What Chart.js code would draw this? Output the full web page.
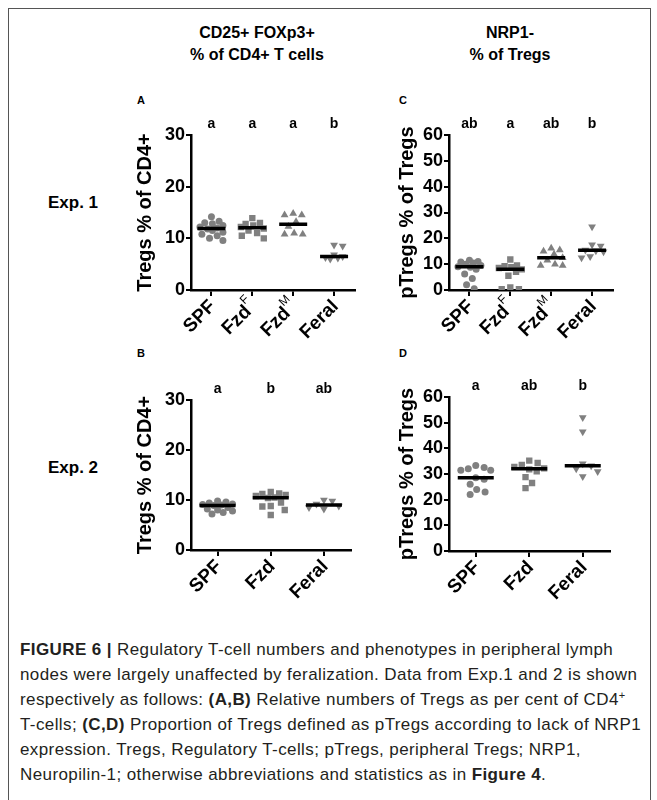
<!DOCTYPE html>
<html>
<head>
<meta charset="utf-8">
<script src="https://cdn.jsdelivr.net/npm/chart.js@4.4.0/dist/chart.umd.min.js"></script>
<style>
body { margin: 0; background: #fff; font-family: "Liberation Sans", Arial, sans-serif; }
#page { position: relative; width: 657px; height: 800px; overflow: hidden; background: #fff; }
#frame { position: absolute; left: 8px; top: 8px; width: 641px; height: 830px; border: 1px solid #555; }
.txt { position: absolute; font-weight: bold; color: #000; white-space: nowrap; }
.head { width: 220px; text-align: center; font-size: 16px; line-height: 22px; }
.exp { font-size: 17px; line-height: 20px; }
.letter { font-size: 11px; line-height: 12px; }
.box { position: absolute; }
#caption { position: absolute; left: 20px; top: 637px; font-size: 17px; letter-spacing: 0.4px; line-height: 25px; color: #231f20; white-space: nowrap; }
#caption sup { font-size: 11px; line-height: 0; vertical-align: 6px; }
</style>
</head>
<body>
<div id="page">
  <div id="frame"></div>
  <div class="txt head" style="left:147px; top:22px;">CD25+ FOXp3+<br>% of CD4+ T cells</div>
  <div class="txt head" style="left:400px; top:22px;">NRP1-<br>% of Tregs</div>
  <div class="txt exp" style="left:48px; top:193px;">Exp. 1</div>
  <div class="txt exp" style="left:48px; top:458px;">Exp. 2</div>
  <div class="txt letter" style="left:137px; top:94px;">A</div>
  <div class="txt letter" style="left:399px; top:94px;">C</div>
  <div class="txt letter" style="left:137px; top:347px;">B</div>
  <div class="txt letter" style="left:399px; top:347px;">D</div>

  <div class="box" style="left:131px; top:105px; width:241px; height:250px;"><canvas id="chartA"></canvas></div>
  <div class="box" style="left:393px; top:105px; width:237px; height:250px;"><canvas id="chartC"></canvas></div>
  <div class="box" style="left:131px; top:370px; width:241px; height:250px;"><canvas id="chartB"></canvas></div>
  <div class="box" style="left:393px; top:367px; width:238px; height:254px;"><canvas id="chartD"></canvas></div>

  <div id="caption"><b>FIGURE 6 |</b> Regulatory T-cell numbers and phenotypes in peripheral lymph<br>nodes were largely unaffected by feralization. Data from Exp.1 and 2 is shown<br>respectively as follows: <b>(A,B)</b> Relative numbers of Tregs as per cent of CD4<sup>+</sup><br>T-cells; <b>(C,D)</b> Proportion of Tregs defined as pTregs according to lack of NRP1<br>expression. Tregs, Regulatory T-cells; pTregs, peripheral Tregs; NRP1,<br>Neuropilin-1; otherwise abbreviations and statistics as in <b>Figure 4</b>.</div>
</div>

<script>
// tick labels (superscripts kept apart)
var exp1Labels = ['SPF', 'Fzd', 'Fzd', 'Feral'];
var exp1Sups = ['', 'F', 'M', ''];
var exp2Labels = ['SPF', 'Fzd', 'Feral'];
var exp2Sups = ['', '', ''];

// significance letters
var lettersA = ['a', 'a', 'a', 'b'];
var lettersC = ['ab', 'a', 'ab', 'b'];
var lettersB = ['a', 'b', 'ab'];
var lettersD = ['a', 'ab', 'b'];

// A: Tregs % of CD4+, Exp. 1
var aSPF = [14.2, 13.3, 13.0, 12.8, 12.5, 12.2, 12.0, 11.8, 11.5, 11.2, 10.8, 10.5, 10.0, 9.6];
var aFzdF = [13.9, 13.0, 12.8, 12.5, 12.2, 11.9, 11.5, 11.0, 10.5, 10.0];
var aFzdM = [14.8, 14.5, 14.5, 13.2, 12.3, 11.0, 10.8, 10.8];
var aFeral = [8.7, 8.5, 6.8, 6.5, 6.3, 6.2, 6.0];

// C: pTregs % of Tregs, Exp. 1
var cSPF = [11.5, 11.0, 10.8, 10.5, 10.0, 9.5, 9.0, 8.8, 8.0, 6.2, 4.5, 2.0, 0.5];
var cFzdF = [11.8, 9.5, 9.2, 8.8, 8.5, 8.0, 7.0, 5.5, 1.0, 0.3, 0.3];
var cFzdM = [16.2, 15.5, 15.0, 13.8, 12.5, 11.5, 10.0, 9.5, 9.5];
var cFeral = [24.5, 17.5, 17.0, 15.5, 15.2, 14.8, 13.0, 12.5];

// B: Tregs % of CD4+, Exp. 2
var bSPF = [9.8, 9.6, 9.4, 9.2, 9.1, 9.0, 8.9, 8.5, 8.2, 8.0, 7.8, 7.5, 7.2];
var bFzd = [11.6, 11.3, 11.2, 11.0, 10.8, 10.5, 10.4, 9.5, 8.8, 8.7, 8.0, 7.0];
var bFeral = [10.0, 9.8, 9.2, 8.8, 8.5, 8.2];

// D: pTregs % of Tregs, Exp. 2
var dSPF = [33.3, 32.5, 32.0, 31.5, 31.5, 28.5, 28.0, 26.0, 24.0, 23.0, 22.0];
var dFzd = [35.2, 34.3, 33.5, 32.8, 32.2, 31.8, 31.0, 28.8, 26.5, 24.5];
var dFeral = [52.0, 46.5, 34.0, 33.2, 32.0, 31.0, 29.0];

var FONT = '"Liberation Sans", Arial, sans-serif';
var GREY = '#808080';

function median(arr) {
    var s = arr.slice().sort(function (a, b) { return a - b; });
    var m = Math.floor(s.length / 2);
    return s.length % 2 ? s[m] : (s[m - 1] + s[m]) / 2;
}

// spread points sideways within +-lim px so they overlap little (simple beeswarm)
function swarm(values, yPx, xPx, d, lim) {
    var placed = [];
    return values.map(function (v) {
        var py = v * yPx, best = 0, bestD = -1;
        for (var k = 0; k <= 2 * lim; k++) {
            var dx = (k % 2 ? 1 : -1) * Math.ceil(k / 2);
            var md = placed.reduce(function (m, p) {
                return Math.min(m, Math.hypot(dx - p.x, py - p.y));
            }, Infinity);
            if (md >= d) { best = dx; break; }
            if (md > bestD) { bestD = md; best = dx; }
        }
        placed.push({ x: best, y: py });
        return best / xPx;
    });
}

var panelText = {
    id: 'panelText',
    afterDraw: function (chart, args, opts) {
        var ctx = chart.ctx, xs = chart.scales.x, area = chart.chartArea;
        ctx.save();
        ctx.fillStyle = '#000';
        ctx.font = 'bold 14px ' + FONT;
        ctx.textAlign = 'center';
        ctx.textBaseline = 'middle';
        opts.letters.forEach(function (t, i) {
            ctx.fillText(t, xs.getPixelForValue(i), area.top - 11);
        });
        opts.labels.forEach(function (t, i) {
            var sup = opts.sups[i], w = 0;
            ctx.save();
            ctx.translate(xs.getPixelForValue(i), area.bottom + 15);
            ctx.rotate(-Math.PI / 4);
            ctx.textAlign = 'right';
            ctx.textBaseline = 'middle';
            if (sup) {
                ctx.font = '12px ' + FONT;
                w = ctx.measureText(sup).width;
                ctx.fillText(sup, 2, -9);
            }
            ctx.font = 'bold 19px ' + FONT;
            ctx.fillText(t, -w + 2, 0);
            ctx.restore();
        });
        ctx.restore();
    }
};

function makePanel(id, p) {
    var n = p.groups.length;
    var yPx = p.plotH / p.yMax, xPx = p.plotW / n;
    var styles = ['circle', 'rect', 'triangle', 'triangle'];
    var rots = [0, 0, 0, 180];
    var radii = [3.5, 4.5, 4.5, 4.5];
    if (n === 3) { styles = ['circle', 'rect', 'triangle']; rots = [0, 0, 180]; radii = [3.5, 4.5, 4.5]; }

    var datasets = [{
        data: p.groups.map(function (g, i) { return { x: i, y: median(g) }; }),
        pointStyle: 'line',
        pointRadius: p.medR,
        pointBorderWidth: 3.5,
        borderColor: '#000',
        backgroundColor: '#000',
        showLine: false
    }];
    p.groups.forEach(function (g, i) {
        var offs = swarm(g, yPx, xPx, 8.5, p.medR - 2);
        datasets.push({
            data: g.map(function (v, j) { return { x: i + offs[j], y: v }; }),
            pointStyle: styles[i],
            rotation: rots[i],
            pointRadius: radii[i],
            backgroundColor: GREY,
            borderColor: GREY,
            pointBorderWidth: 0,
            showLine: false
        });
    });

    new Chart(document.getElementById(id), {
        type: 'scatter',
        data: { datasets: datasets },
        plugins: [panelText],
        options: {
            responsive: true,
            maintainAspectRatio: false,
            animation: false,
            layout: { padding: { top: 30, right: p.padR, left: 0, bottom: 0 } },
            plugins: {
                legend: { display: false },
                tooltip: { enabled: false },
                panelText: { letters: p.letters, labels: p.labels, sups: p.sups }
            },
            scales: {
                x: {
                    type: 'linear',
                    min: -0.5,
                    max: n - 0.5,
                    afterBuildTicks: function (s) {
                        s.ticks = p.labels.map(function (l, i) { return { value: i }; });
                    },
                    afterFit: function (s) { s.height = p.xH; },
                    ticks: { display: false },
                    grid: { drawOnChartArea: false, drawTicks: true, tickLength: 6, color: '#000', lineWidth: 2 },
                    border: { display: true, color: '#000', width: 2.5 }
                },
                y: {
                    min: 0,
                    max: p.yMax,
                    afterFit: function (s) { s.width = p.yW; },
                    ticks: { stepSize: 10, color: '#000', padding: 1, font: { family: FONT, size: 18, weight: 'bold' } },
                    grid: { drawOnChartArea: false, drawTicks: true, tickLength: 5, color: '#000', lineWidth: 2 },
                    border: { display: true, color: '#000', width: 2.5 },
                    title: {
                        display: true,
                        text: p.yTitle,
                        color: '#000',
                        padding: { top: 2, bottom: 0 },
                        font: { family: FONT, size: 20, weight: 'bold' }
                    }
                }
            }
        }
    });
}

window.onload = function () {
    makePanel('chartA', {
        groups: [aSPF, aFzdF, aFzdM, aFeral], labels: exp1Labels, sups: exp1Sups, letters: lettersA,
        yMax: 30, yTitle: 'Tregs % of CD4+', yW: 60, padR: 10, xH: 65, plotW: 171, plotH: 150, medR: 14
    });
    makePanel('chartC', {
        groups: [cSPF, cFzdF, cFzdM, cFeral], labels: exp1Labels, sups: exp1Sups, letters: lettersC,
        yMax: 60, yTitle: 'pTregs % of Tregs', yW: 56, padR: 10, xH: 65, plotW: 171, plotH: 150, medR: 14
    });
    makePanel('chartB', {
        groups: [bSPF, bFzd, bFeral], labels: exp2Labels, sups: exp2Sups, letters: lettersB,
        yMax: 30, yTitle: 'Tregs % of CD4+', yW: 60, padR: 10, xH: 70, plotW: 171, plotH: 150, medR: 18
    });
    makePanel('chartD', {
        groups: [dSPF, dFzd, dFeral], labels: exp2Labels, sups: exp2Sups, letters: lettersD,
        yMax: 60, yTitle: 'pTregs % of Tregs', yW: 56, padR: 10, xH: 70, plotW: 172, plotH: 154, medR: 18
    });
};
</script>
</body>
</html>
